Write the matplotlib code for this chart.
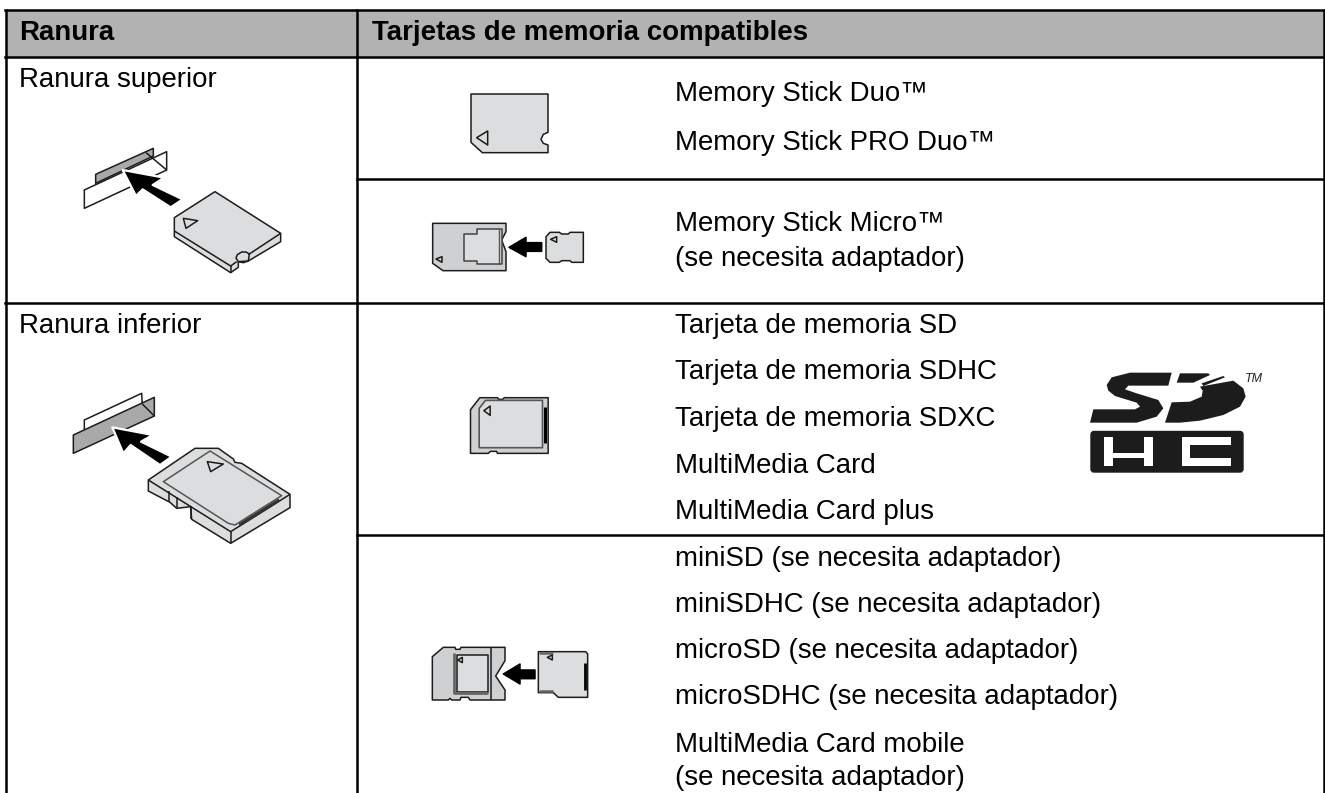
import matplotlib
matplotlib.use('Agg')
import matplotlib.pyplot as plt
from matplotlib.patches import Polygon, FancyBboxPatch, Rectangle

plt.rcParams['font.family'] = ['Liberation Sans', 'DejaVu Sans']

# table text
headers = ['Ranura', 'Tarjetas de memoria compatibles']
slots = ['Ranura superior', 'Ranura inferior']
cards = ['Memory Stick Duo™', 'Memory Stick PRO Duo™', 'Memory Stick Micro™', '(se necesita adaptador)',
         'Tarjeta de memoria SD', 'Tarjeta de memoria SDHC', 'Tarjeta de memoria SDXC', 'MultiMedia Card',
         'MultiMedia Card plus', 'miniSD (se necesita adaptador)', 'miniSDHC (se necesita adaptador)',
         'microSD (se necesita adaptador)', 'microSDHC (se necesita adaptador)', 'MultiMedia Card mobile',
         '(se necesita adaptador)']
card_base = [100.7, 150, 230.7, 265.7, 333, 379.3, 426, 472.7, 518.7, 565.7, 611.7, 658.3, 704.3, 751.7, 785]
slot_base = [86.7, 333]

FS = 19.9
CARD = '#dcddde'
DARK = '#cfd0d1'
SLOT = '#a9a9a9'
INK = '#1c1c1c'

fig = plt.figure(figsize=(13.25, 7.93), dpi=100)
ax = fig.add_axes([0, 0, 1, 1])
ax.set_xlim(0, 1325)
ax.set_ylim(793, 0)
ax.axis('off')


def poly(org, pts, fc='none', ec=INK, lw=1.1, z=3):
    xy = [(org[0] + x / 3, org[1] + y / 3) for x, y in pts]
    ax.add_patch(Polygon(xy, closed=True, fc=fc, ec=ec, lw=lw, zorder=z, joinstyle='round'))


def line(org, pts, c=INK, lw=1.1, z=4):
    ax.plot([org[0] + p[0] / 3 for p in pts], [org[1] + p[1] / 3 for p in pts],
            color=c, lw=lw, zorder=z, solid_capstyle='butt')


# grid
ax.add_patch(Rectangle((6, 10), 1318, 47, fc='#b2b2b2', ec='none', zorder=1))
LW = 1.8
for x in [6, 357, 1324]:
    ax.plot([x, x], [9, 793], color='black', lw=LW, zorder=2, solid_capstyle='butt')
ax.plot([5, 1325], [10, 10], color='black', lw=LW, zorder=2)
ax.plot([5, 1325], [57, 57], color='black', lw=LW, zorder=2)
ax.plot([5, 1325], [302.7, 302.7], color='black', lw=LW, zorder=2)
ax.plot([357, 1325], [178.7, 178.7], color='black', lw=LW, zorder=2)
ax.plot([357, 1325], [535, 535], color='black', lw=LW, zorder=2)

# text
ax.text(19, 40, headers[0], fontsize=FS, fontweight='bold', va='baseline', color='black')
ax.text(371.5, 40, headers[1], fontsize=FS, fontweight='bold', va='baseline', color='black')
for s, b in zip(slots, slot_base):
    ax.text(19, b, s, fontsize=FS, va='baseline', color='black')
for s, b in zip(cards, card_base):
    ax.text(675, b, s, fontsize=FS, va='baseline', color='black')

# upper slot
o = (60, 130)
poly(o, [(73, 180), (320, 65), (320, 120), (73, 235)], fc='white')
poly(o, [(107, 133), (280, 55), (280, 78), (107, 160)], fc=SLOT)
line(o, [(258, 68), (320, 120)])
poly(o, [(188, 120), (312, 143), (278, 165), (368, 208), (332, 232), (248, 178), (228, 198)], fc='black', ec='white', lw=1.6, z=5)
poly(o, [(343, 263), (465, 185), (662, 310), (662, 335), (565, 393), (535, 395), (535, 412), (512, 428), (343, 320)], fc=CARD, z=6)
line(o, [(343, 303), (512, 408), (530, 395)], z=7)
line(o, [(512, 408), (512, 428)], z=7)
line(o, [(662, 310), (568, 372), (558, 366), (545, 366), (532, 374), (528, 384), (535, 395), (550, 398), (565, 393), (568, 372)], z=7)
poly(o, [(370, 265), (413, 272), (378, 295)], z=7)

# memory stick duo
o = (440, 80)
poly(o, [(93, 42), (324, 42), (324, 157), (310, 163), (303, 178), (310, 190), (324, 195), (324, 218), (127, 218), (93, 187)], fc=CARD)
poly(o, [(143, 153), (143, 195), (110, 173)], z=4)

# memory stick micro
poly(o, [(-22, 430), (198, 430), (198, 455), (185, 480), (198, 515), (198, 572), (9, 572), (-22, 550)], fc=DARK)
poly(o, [(73, 462), (110, 462), (110, 448), (187, 448), (187, 552), (110, 552), (110, 543), (73, 543)], fc=CARD, ec='#444444', z=4)
line(o, [(178, 448), (178, 552)], c='#555555', lw=1.0, z=5)
poly(o, [(-12, 537), (6, 530), (6, 547)], z=4)
poly(o, [(207, 502), (258, 472), (258, 488), (305, 488), (305, 514), (258, 514), (258, 530)], fc='black', ec='black')
poly(o, [(318, 470), (330, 457), (358, 457), (365, 462), (385, 462), (390, 457), (430, 457), (430, 547), (395, 547), (390, 542),
         (365, 542), (358, 547), (330, 547), (318, 535)], fc=CARD)
poly(o, [(332, 478), (350, 470), (350, 487)], z=4)

# lower slot
o = (60, 385)
poly(o, [(73, 105), (245, 25), (247, 60), (73, 140)], fc='white')
poly(o, [(40, 150), (283, 37), (283, 93), (40, 205)], fc=SLOT)
line(o, [(247, 57), (283, 93)])
poly(o, [(157, 127), (278, 150), (243, 170), (335, 215), (300, 240), (212, 180), (190, 205)], fc='black', ec='white', lw=1.6, z=5)
poly(o, [(265, 285), (405, 190), (475, 190), (520, 222), (525, 232), (545, 235), (690, 328), (690, 368), (512, 475), (395, 403),
         (392, 365), (350, 370), (330, 352), (265, 318)], fc=CARD, z=6)
line(o, [(265, 285), (512, 440), (690, 328)], z=7)
line(o, [(512, 440), (512, 475)], z=7)
line(o, [(328, 318), (328, 352)], z=7)
line(o, [(350, 335), (350, 370)], z=7)
line(o, [(393, 363), (393, 403)], z=7)
poly(o, [(310, 290), (450, 198), (665, 332), (525, 420), (505, 415)], ec='#555555', z=7)
line(o, [(538, 420), (658, 345)], c='#333333', lw=2.4, z=8)
poly(o, [(442, 230), (490, 237), (452, 260)], z=7)

# sd card
o = (470.5, 397.7)
poly(o, [(0, 36), (28, 0), (81, 0), (85, 5), (97, 5), (101, 0), (233, 0), (233, 167), (81, 167), (78, 161), (60, 161), (53, 167), (0, 167)], fc=DARK)
poly(o, [(26, 32), (45, 8), (216, 8), (216, 150), (26, 150)], fc=CARD, ec='#555555', lw=1.2, z=4)
line(o, [(224, 27), (224, 135)], c='black', lw=2.2)
poly(o, [(59, 25), (59, 53), (40, 39)], z=5)

# miniSD adapter
o = (425, 640)
poly(o, [(22, 50), (55, 22), (90, 22), (92, 28), (105, 28), (108, 22), (240, 22), (240, 62), (212, 108), (240, 150), (240, 180),
         (135, 180), (130, 172), (108, 172), (105, 180), (80, 180), (75, 175), (70, 180), (22, 180)], fc=DARK)
poly(o, [(95, 45), (190, 45), (190, 155), (95, 155)], fc=CARD, ec=INK, z=4)
line(o, [(88, 40), (88, 158), (190, 158)], c='#666666', lw=2, z=5)
line(o, [(197, 22), (197, 180)])
poly(o, [(98, 60), (112, 52), (112, 68)], z=5)
poly(o, [(235, 102), (285, 72), (285, 90), (330, 90), (330, 116), (285, 116), (285, 132)], fc='black', ec='black')
poly(o, [(340, 35), (482, 35), (488, 42), (488, 172), (400, 172), (385, 158), (340, 158)], fc=CARD)
line(o, [(480, 68), (480, 150)], c='black', lw=2)
line(o, [(342, 39), (385, 39)], c='#666666', lw=1.8)
line(o, [(342, 153), (385, 153)], c='#666666', lw=1.8)
poly(o, [(367, 52), (382, 45), (382, 60)], z=5)

# SD logo
o = (980, 370)
poly(o, [(575, 8), (450, 8), (395, 22), (380, 45), (385, 62), (405, 78), (470, 98), (480, 110), (465, 118), (340, 118), (330, 158),
         (470, 158), (530, 140), (550, 115), (535, 90), (470, 70), (435, 58), (445, 47), (565, 47)], fc=INK, ec='none', z=5)
poly(o, [(555, 158), (575, 97), (630, 95), (665, 80), (668, 62), (660, 50), (760, 32), (790, 55), (797, 80), (780, 110), (730, 135),
         (660, 152), (600, 158)], fc=INK, ec='none', z=5)
poly(o, [(600, 10), (685, 10), (690, 15), (640, 38), (590, 38)], fc=INK, ec='none', z=5)
poly(o, [(665, 40), (730, 18), (735, 22), (670, 48)], fc=INK, ec='none', z=5)
ax.add_patch(FancyBboxPatch((1091, 431.5), 152, 40.5, boxstyle='round,pad=0,rounding_size=3', fc=INK, ec=INK, lw=1, zorder=5))
poly(o, [(372, 200), (398, 200), (398, 248), (492, 248), (492, 200), (518, 200), (518, 288), (492, 288), (492, 265), (398, 265),
         (398, 288), (372, 288)], fc='white', ec='none', z=6)
poly(o, [(752, 200), (605, 200), (605, 288), (752, 288), (752, 265), (630, 265), (630, 225), (752, 225)], fc='white', ec='none', z=6)
ax.text(1245, 382, 'TM', fontsize=9, style='italic', va='baseline', color='#222222')

fig.savefig('out.png', dpi=100)
